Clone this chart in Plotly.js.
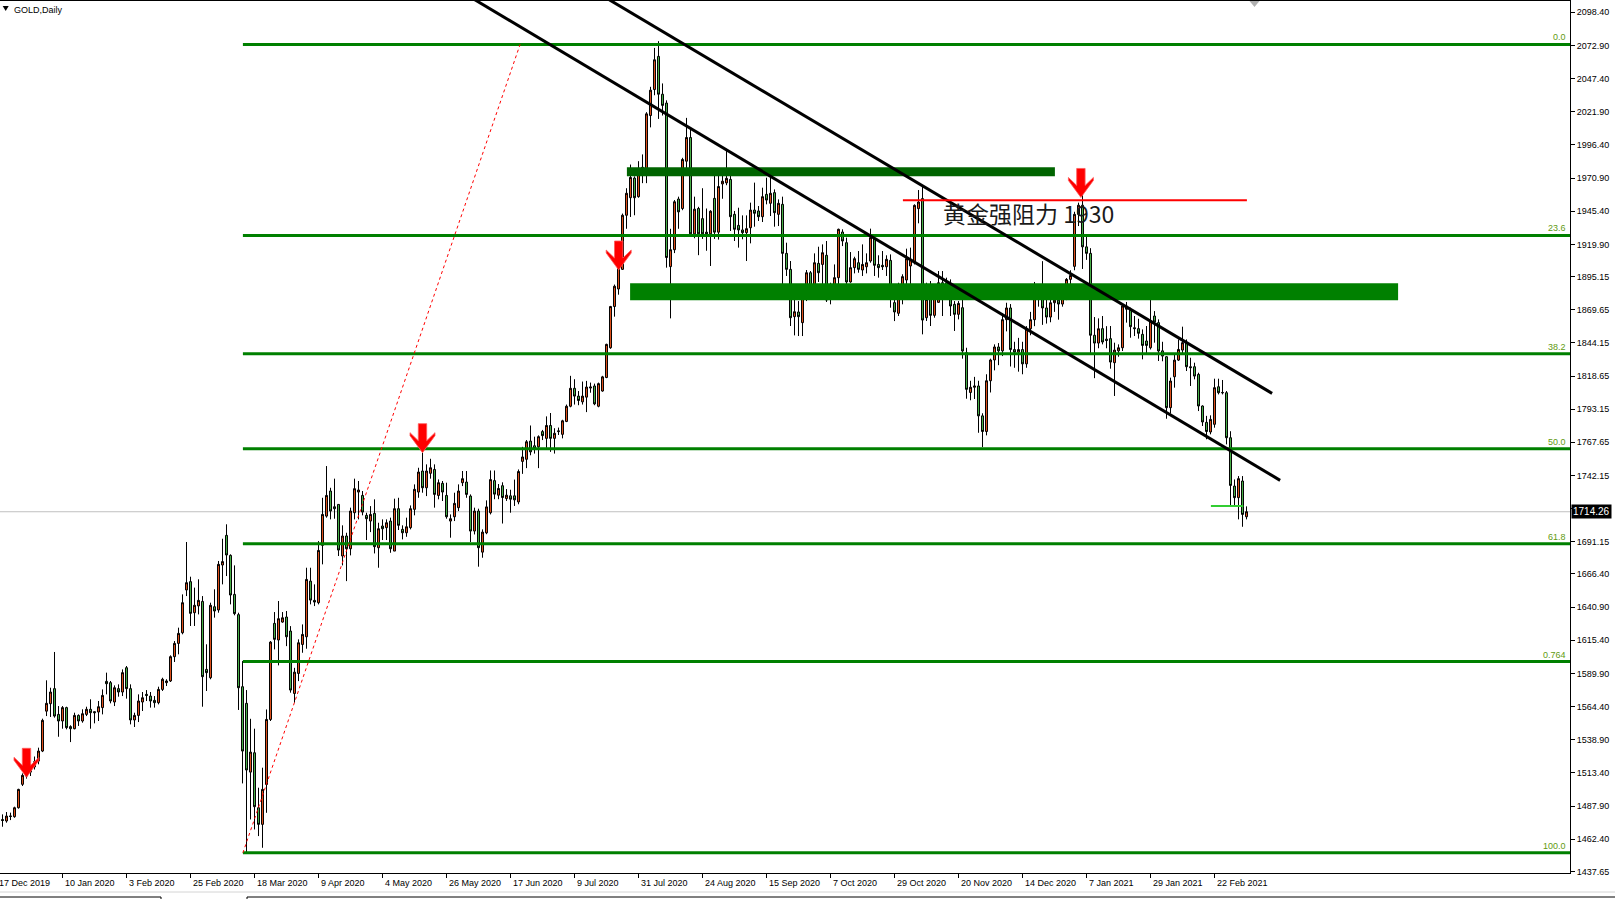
<!DOCTYPE html>
<html><head><meta charset="utf-8">
<script src="https://cdn.plot.ly/plotly-3.0.1.min.js"></script>
<style>html,body{margin:0;padding:0;background:#fff;overflow:hidden}#chart{width:1615px;height:899px}</style>
</head><body><div id="chart"></div>
<script>
// Daily OHLC of GOLD, bar index 0 = 17 Dec 2019 ... 312 = 4 Mar 2021
const opens = [1476.0,1477.5,1476.4,1480.3,1479.7,1486.6,1504.6,1511.0,1514.0,1518.0,
1522.5,1530.2,1560.9,1566.6,1578.2,1558.4,1553.3,1563.6,1549.0,1547.4,
1557.6,1553.3,1558.4,1562.3,1560.5,1560.2,1563.6,1583.8,1582.8,1567.9,
1578.2,1575.6,1594.3,1578.2,1554.1,1557.6,1567.9,1573.8,1572.5,1569.2,
1567.4,1577.6,1582.8,1584.1,1602.8,1613.0,1621.2,1654.1,1660.5,1636.6,
1641.8,1645.3,1593.0,1586.6,1641.2,1638.7,1673.3,1696.1,1680.7,1650.7,
1635.1,1579.7,1566.9,1514.0,1528.9,1486.6,1473.8,1504.5,1554.5,1628.4,
1615.6,1629.4,1633.3,1622.5,1574.5,1589.9,1612.2,1618.1,1660.9,1646.1,
1644.3,1688.4,1710.9,1730.2,1718.1,1719.9,1680.2,1695.6,1685.8,1713.5,
1729.4,1726.8,1711.5,1707.1,1713.0,1686.6,1703.3,1702.0,1707.1,1684.0,
1716.6,1700.7,1698.1,1702.0,1716.1,1729.4,1745.6,1732.7,1743.8,1746.8,
1726.8,1736.1,1726.8,1707.1,1710.4,1717.4,1736.6,1737.1,1726.3,1699.4,
1714.8,1683.2,1698.0,1713.5,1738.2,1727.0,1734.3,1724.4,1726.5,1726.5,
1721.8,1753.0,1754.6,1768.6,1765.0,1764.2,1775.9,1770.7,1780.6,1770.7,
1775.9,1773.8,1783.7,1795.4,1809.2,1803.2,1798.8,1802.4,1809.4,1811.0,
1795.4,1807.1,1817.5,1840.4,1872.1,1885.6,1900.7,1942.3,1955.8,1970.9,
1956.6,1976.6,1974.8,2019.0,2039.0,2064.5,2035.4,2028.6,1902.8,1915.8,
1954.8,1947.5,1983.9,2002.1,1928.0,1947.5,1939.7,1929.3,1928.0,1955.3,
1929.3,1966.4,1967.2,1969.9,1943.0,1934.5,1931.0,1928.9,1932.7,1946.3,
1945.6,1941.2,1958.4,1951.5,1959.7,1943.0,1950.7,1913.0,1900.7,1864.3,
1867.9,1859.7,1880.2,1898.1,1885.3,1905.3,1904.5,1911.5,1877.9,1887.4,
1894.3,1929.4,1921.2,1891.0,1902.0,1905.8,1900.2,1902.7,1907.1,1924.3,
1904.5,1903.8,1902.7,1907.6,1875.1,1866.9,1877.6,1892.5,1903.3,1905.8,
1947.4,1955.1,1863.5,1877.6,1865.3,1875.3,1890.4,1890.4,1880.7,1873.8,
1866.1,1871.2,1836.6,1806.0,1810.0,1811.0,1788.0,1776.0,1815.0,1831.0,
1841.0,1838.0,1862.0,1871.0,1839.0,1837.0,1839.0,1828.0,1855.0,1862.0,
1887.0,1882.0,1871.0,1864.0,1875.0,1877.0,1874.0,1880.0,1893.0,1903.0,
1943.0,1950.0,1918.0,1913.0,1850.0,1844.0,1855.1,1847.0,1847.4,1828.9,
1838.0,1840.4,1872.5,1869.4,1855.8,1855.1,1850.7,1845.6,1840.4,1864.8,
1859.7,1838.0,1833.5,1794.3,1818.1,1830.9,1838.6,1844.3,1825.8,1825.8,
1819.9,1795.6,1783.0,1775.6,1781.5,1810.4,1806.0,1805.8,1771.2,1734.0,
1725.1,1737.9,1710.4];
const highs = [1479.0,1481.5,1483.3,1482.8,1487.4,1501.2,1513.0,1516.0,1520.0,1526.0,
1532.8,1555.1,1584.6,1578.9,1606.4,1564.8,1564.8,1564.3,1550.0,1559.7,
1558.4,1562.3,1564.3,1570.0,1560.7,1568.7,1577.6,1590.5,1584.1,1580.7,
1581.5,1593.0,1595.6,1581.5,1559.7,1573.8,1575.6,1577.1,1575.6,1572.5,
1579.7,1586.6,1585.4,1603.8,1614.8,1625.1,1650.7,1691.0,1664.3,1655.9,
1662.3,1649.4,1612.3,1644.3,1654.6,1676.4,1693.5,1704.6,1681.5,1673.0,
1636.6,1599.4,1577.1,1555.0,1547.4,1502.0,1517.4,1562.2,1614.8,1637.1,
1645.6,1637.1,1637.9,1626.3,1594.2,1616.1,1627.6,1671.2,1671.2,1658.4,
1691.7,1725.0,1749.4,1732.7,1739.7,1719.9,1703.8,1698.1,1717.4,1739.7,
1737.9,1730.2,1713.5,1718.6,1723.8,1705.8,1708.4,1708.4,1709.7,1724.3,
1725.0,1703.8,1709.7,1719.1,1735.3,1748.1,1759.7,1750.7,1755.0,1750.7,
1739.1,1737.9,1736.6,1712.2,1728.9,1735.3,1745.6,1745.6,1727.6,1717.4,
1716.6,1700.7,1723.0,1746.0,1746.0,1735.6,1736.9,1731.7,1731.2,1739.0,
1746.8,1764.2,1769.4,1780.6,1772.0,1773.0,1777.2,1787.6,1790.2,1778.5,
1779.0,1785.0,1796.7,1818.8,1816.2,1807.1,1814.4,1814.9,1813.6,1812.8,
1813.6,1818.8,1843.5,1872.6,1889.0,1905.9,1943.6,1963.1,1981.3,1972.2,
1983.9,1989.1,2021.6,2041.1,2071.0,2076.2,2043.7,2030.7,1931.9,1954.0,
1956.6,1986.5,2017.2,2008.6,1956.6,1948.8,1963.1,1947.5,1946.2,1976.6,
1977.4,1977.5,1991.7,1973.8,1945.6,1948.1,1942.2,1942.2,1952.0,1967.4,
1949.4,1963.5,1971.2,1973.8,1962.2,1954.5,1956.6,1921.2,1907.1,1878.1,
1876.3,1883.3,1900.2,1899.4,1913.0,1918.1,1919.9,1922.5,1890.4,1904.5,
1932.0,1931.5,1925.1,1914.0,1910.4,1914.8,1919.9,1913.0,1932.0,1925.8,
1911.5,1914.8,1911.5,1912.2,1877.6,1890.4,1896.9,1916.6,1917.4,1950.7,
1961.7,1964.3,1890.4,1891.7,1887.9,1899.4,1899.4,1894.3,1893.0,1876.3,
1876.3,1880.2,1840.4,1815.0,1818.0,1815.0,1790.0,1820.0,1832.0,1843.0,
1844.0,1867.0,1875.0,1874.0,1845.0,1848.0,1845.0,1857.0,1868.0,1891.0,
1888.0,1907.0,1880.0,1878.0,1884.0,1887.0,1886.0,1894.0,1900.0,1945.0,
1952.0,1959.0,1927.0,1917.0,1864.0,1863.0,1864.8,1857.0,1857.1,1844.3,
1843.0,1874.5,1875.6,1871.2,1864.8,1862.7,1854.5,1857.1,1877.1,1868.6,
1862.2,1845.0,1834.0,1817.4,1835.3,1846.8,1856.6,1846.8,1832.7,1828.9,
1821.2,1796.1,1788.0,1788.4,1816.6,1816.6,1815.6,1807.1,1776.2,1739.1,
1741.7,1741.7,1718.4];
const lows = [1474.0,1472.0,1475.1,1477.1,1478.9,1485.9,1503.3,1509.0,1511.0,1516.0,
1520.0,1529.4,1557.1,1556.4,1555.9,1541.2,1547.4,1546.9,1537.1,1546.9,
1549.5,1552.0,1557.1,1547.4,1551.5,1553.3,1558.4,1573.8,1566.9,1564.8,
1572.0,1572.5,1570.5,1550.7,1548.7,1552.5,1561.0,1568.7,1563.6,1563.6,
1566.1,1576.4,1580.2,1583.3,1598.7,1604.6,1620.0,1649.4,1626.4,1626.4,
1635.3,1564.3,1576.4,1585.4,1632.8,1636.6,1658.4,1664.8,1643.0,1634.6,
1561.8,1505.3,1452.0,1477.6,1469.9,1464.8,1455.8,1482.7,1553.3,1608.4,
1596.1,1628.9,1610.9,1575.1,1567.4,1584.0,1605.8,1608.9,1643.0,1641.7,
1643.0,1673.8,1709.7,1708.4,1708.9,1680.2,1673.0,1660.9,1680.7,1708.4,
1708.4,1711.5,1692.5,1698.6,1682.2,1671.2,1692.5,1692.5,1682.7,1684.0,
1700.2,1693.0,1695.0,1700.7,1711.5,1725.0,1728.9,1726.3,1739.7,1717.4,
1723.8,1722.5,1708.9,1694.3,1707.1,1714.8,1734.0,1725.0,1691.0,1696.8,
1672.0,1678.9,1697.0,1712.2,1723.9,1723.9,1705.2,1722.6,1713.5,1718.7,
1720.0,1743.4,1747.8,1757.7,1759.0,1747.8,1769.4,1763.4,1760.3,1759.0,
1773.3,1770.7,1783.2,1794.6,1796.7,1796.2,1796.7,1790.9,1805.8,1796.2,
1794.6,1806.6,1817.0,1839.6,1864.3,1881.2,1900.2,1931.9,1941.0,1942.3,
1955.8,1967.0,1967.0,2009.9,2034.6,2016.4,2019.0,1902.0,1863.0,1913.2,
1931.9,1946.2,1976.1,1926.0,1924.6,1911.6,1924.1,1915.0,1903.3,1924.1,
1923.6,1955.0,1965.4,1930.2,1922.5,1917.4,1923.8,1907.1,1920.7,1933.5,
1937.9,1937.1,1950.7,1941.7,1933.5,1934.0,1882.7,1895.6,1857.1,1849.9,
1849.4,1849.4,1876.3,1885.3,1883.3,1891.0,1887.9,1875.6,1873.8,1882.7,
1887.9,1918.6,1887.4,1890.4,1897.6,1898.1,1895.6,1897.6,1905.8,1895.6,
1894.3,1900.2,1895.6,1871.2,1860.9,1864.8,1873.8,1887.9,1882.2,1904.5,
1936.1,1850.7,1861.0,1857.1,1863.5,1875.1,1864.8,1877.6,1864.8,1853.3,
1862.2,1832.0,1801.2,1800.0,1801.0,1775.0,1764.0,1773.0,1806.0,1823.0,
1827.0,1834.0,1853.0,1826.0,1825.0,1822.0,1820.0,1825.0,1850.0,1857.0,
1872.0,1858.0,1859.0,1860.0,1868.0,1862.0,1872.0,1877.0,1885.0,1900.0,
1934.0,1901.0,1908.0,1835.0,1817.0,1840.0,1843.0,1840.0,1824.3,1803.3,
1833.5,1837.9,1859.7,1848.1,1849.4,1847.4,1831.5,1835.3,1839.1,1844.3,
1830.2,1830.0,1785.8,1789.9,1809.7,1830.2,1835.3,1822.5,1811.0,1816.1,
1791.7,1780.2,1770.0,1773.8,1778.9,1804.5,1804.5,1766.1,1719.2,1718.6,
1708.4,1702.7,1708.4];
const closes = [1477.0,1476.8,1480.2,1479.9,1486.6,1500.7,1511.5,1514.0,1518.0,1522.0,
1530.2,1553.8,1566.9,1575.6,1557.1,1553.3,1563.6,1548.2,1547.4,1557.6,
1553.3,1558.9,1562.3,1559.7,1559.7,1564.3,1573.0,1582.0,1568.7,1578.9,
1575.6,1590.5,1578.2,1554.1,1557.6,1568.7,1571.2,1573.0,1568.7,1567.4,
1577.6,1585.4,1584.1,1602.8,1613.0,1620.7,1644.3,1659.7,1636.1,1642.3,
1646.1,1587.4,1590.5,1642.3,1637.9,1673.8,1675.9,1681.0,1650.2,1635.9,
1578.9,1530.2,1515.6,1529.4,1487.4,1473.8,1500.7,1554.5,1614.0,1616.1,
1632.0,1632.7,1618.1,1577.1,1590.9,1613.5,1619.9,1662.2,1646.3,1644.8,
1684.5,1712.2,1726.8,1714.8,1716.6,1684.8,1695.6,1685.8,1714.8,1732.0,
1731.0,1714.0,1708.9,1712.2,1687.4,1701.2,1701.2,1705.8,1685.8,1716.6,
1703.8,1698.1,1702.7,1716.6,1731.5,1744.8,1732.7,1745.6,1748.1,1727.6,
1736.6,1729.4,1710.4,1708.9,1720.7,1730.2,1739.7,1727.6,1699.4,1714.8,
1686.6,1698.6,1718.0,1739.0,1727.8,1732.2,1725.2,1727.0,1723.9,1723.4,
1745.2,1756.4,1768.1,1760.3,1762.9,1772.0,1772.8,1780.6,1770.7,1774.6,
1776.4,1784.2,1795.4,1809.2,1803.2,1799.8,1803.2,1810.2,1810.2,1797.2,
1812.8,1818.0,1843.0,1872.1,1887.7,1903.3,1942.3,1959.2,1971.4,1955.8,
1976.6,1979.2,2020.3,2038.5,2061.9,2035.4,2026.8,1909.8,1915.8,1952.7,
1944.9,1985.2,2002.1,1928.0,1947.0,1928.0,1928.0,1928.0,1945.4,1929.3,
1964.4,1968.5,1970.7,1941.2,1931.5,1931.0,1928.9,1932.0,1946.3,1943.8,
1941.2,1956.6,1954.0,1959.2,1944.3,1951.5,1913.0,1900.7,1863.5,1868.1,
1864.3,1882.2,1898.1,1885.8,1905.8,1898.1,1913.5,1877.1,1887.9,1894.3,
1931.5,1922.5,1891.0,1902.0,1908.9,1900.7,1904.5,1905.8,1925.1,1903.8,
1902.0,1902.7,1908.4,1877.6,1867.9,1879.7,1895.1,1908.9,1908.4,1949.9,
1952.5,1861.7,1877.6,1865.3,1884.0,1890.4,1887.9,1880.7,1872.5,1866.1,
1874.5,1837.9,1808.4,1810.0,1811.0,1788.0,1776.0,1815.0,1831.0,1841.0,
1838.0,1862.0,1871.0,1839.0,1837.0,1839.0,1828.0,1855.0,1862.0,1887.0,
1882.0,1871.0,1864.0,1875.0,1877.0,1874.0,1880.0,1893.0,1896.0,1943.0,
1950.0,1918.0,1913.0,1850.0,1844.0,1855.0,1844.8,1846.0,1829.4,1838.6,
1840.4,1872.5,1870.0,1856.6,1855.1,1851.5,1842.2,1842.2,1861.0,1860.2,
1837.9,1834.0,1794.3,1814.8,1830.9,1839.1,1844.3,1825.8,1825.1,1818.6,
1795.6,1783.3,1776.0,1785.3,1809.7,1805.8,1805.8,1771.2,1734.5,1725.1,
1739.7,1712.2,1714.3];

const xTickIdx = [0,16,32,48,64,80,96,112,128,144,160,176,192,208,224,240,256,272,288,304];
const xTickLabels = ['17 Dec 2019','10 Jan 2020','3 Feb 2020','25 Feb 2020','18 Mar 2020','9 Apr 2020','4 May 2020','26 May 2020','17 Jun 2020','9 Jul 2020','31 Jul 2020','24 Aug 2020','15 Sep 2020','7 Oct 2020','29 Oct 2020','20 Nov 2020','14 Dec 2020','7 Jan 2021','29 Jan 2021','22 Feb 2021'];
const yTickVals = [2098.40,2072.90,2047.40,2021.90,1996.40,1970.90,1945.40,1919.90,1895.15,1869.65,1844.15,1818.65,1793.15,1767.65,1742.15,1716.65,1691.15,1666.40,1640.90,1615.40,1589.90,1564.40,1538.90,1513.40,1487.90,1462.40,1437.65];

// Fibonacci retracement (levels)
const fibLevels = [2073.7,1926.8,1835.8,1762.8,1689.6,1599.0,1451.9];
const fibLabels = ['0.0','23.6','38.2','50.0','61.8','0.764','100.0'];
const fibStartIdx = 61.1;
// Drawn objects (bar index, price)
const trendLine1 = [[118.9,2108.4],[320.4,1738.4]];
const trendLine2 = [[152.5,2108.4],[318.4,1805.3]];
const fibTrend = [[61.1,1451.9],[130.4,2073.7]];
const zone1 = {x:[157.1,264.1], y:[1972.3,1979.2]};
const zone2 = {x:[157.9,349.9], y:[1876.9,1890.0]};
const resistLine = {x:[226.1,312.1], y:1953.8};
const shortGreen = {x:[303.1,311.2], y:1718.6};
const arrowTips = [[7.0,1510.0],[155.05,1900.2],[106.0,1759.7],[270.6,1956.0]];
const noteText = '黄金强阻力 1930';
const notePos = [235.6,1943.8];
const lastPrice = 1714.26;

const idx = opens.map((_, k) => k);
const xRange = [0.375, 392.875];
const yRange = [1436.4, 2107.1];

const shapes = [];
// price line
shapes.push({type:'line', xref:'paper', yref:'y', x0:0, x1:1, y0:lastPrice, y1:lastPrice, line:{color:'#c0c0c0', width:1}, layer:'below'});
// fib lines
fibLevels.forEach(v => shapes.push({type:'line', xref:'x', yref:'y', x0:fibStartIdx, x1:xRange[1], y0:v, y1:v, line:{color:'#008000', width:3}, layer:'above'}));
// fib trend dotted
shapes.push({type:'line', xref:'x', yref:'y', x0:fibTrend[0][0], y0:fibTrend[0][1], x1:fibTrend[1][0], y1:fibTrend[1][1], line:{color:'#ff0000', width:1, dash:'dot'}, layer:'above'});
// zones
shapes.push({type:'rect', xref:'x', yref:'y', x0:zone1.x[0], x1:zone1.x[1], y0:zone1.y[0], y1:zone1.y[1], fillcolor:'#006400', line:{width:0}, layer:'above'});
shapes.push({type:'rect', xref:'x', yref:'y', x0:zone2.x[0], x1:zone2.x[1], y0:zone2.y[0], y1:zone2.y[1], fillcolor:'#008000', line:{width:0}, layer:'above'});
// trend lines
[trendLine1, trendLine2].forEach(t => shapes.push({type:'line', xref:'x', yref:'y', x0:t[0][0], y0:t[0][1], x1:t[1][0], y1:t[1][1], line:{color:'#000000', width:3}, layer:'above'}));
// resistance line
shapes.push({type:'line', xref:'x', yref:'y', x0:resistLine.x[0], x1:resistLine.x[1], y0:resistLine.y, y1:resistLine.y, line:{color:'#ff0000', width:2}, layer:'above'});
shapes.push({type:'line', xref:'x', yref:'y', x0:shortGreen.x[0], x1:shortGreen.x[1], y0:shortGreen.y, y1:shortGreen.y, line:{color:'#32cd32', width:2}, layer:'above'});
// arrows
arrowTips.forEach(a => shapes.push({type:'path', xref:'x', yref:'y', xsizemode:'pixel', ysizemode:'pixel', xanchor:a[0], yanchor:a[1],
  path:'M0,0 L12.5,17 L12.5,20 L4.2,12 L4.2,29 L-4.2,29 L-4.2,12 L-12.5,20 L-12.5,17 Z', fillcolor:'#ff0000', line:{color:'#ff5a5a', width:0.8}, layer:'above'}));
// top-left triangle and chart-shift marker
shapes.push({type:'path', xref:'paper', yref:'paper', xsizemode:'pixel', ysizemode:'pixel', xanchor:0, yanchor:1, path:'M2.7,-5 L8.7,-5 L5.7,-10 Z', fillcolor:'#000', line:{width:0}});
shapes.push({type:'path', xref:'x', yref:'paper', xsizemode:'pixel', ysizemode:'pixel', xanchor:314.0, yanchor:1, path:'M-5,0 L5,0 L0,-6 Z', fillcolor:'#b0b0b0', line:{width:0}});
// bottom tab strip
const H = 872, W = 1570;
const py = Y => (873 - Y) / H, px = X => X / W;
shapes.push({type:'line', xref:'paper', yref:'paper', x0:0, x1:px(1615), y0:py(892), y1:py(892), line:{color:'#d4d4d4', width:1}});
shapes.push({type:'line', xref:'paper', yref:'paper', x0:0, x1:px(161), y0:py(897), y1:py(897), line:{color:'#000', width:1}});
shapes.push({type:'line', xref:'paper', yref:'paper', x0:px(161), x1:px(161), y0:py(897), y1:py(899), line:{color:'#000', width:1}});
shapes.push({type:'line', xref:'paper', yref:'paper', x0:px(247), x1:px(1615), y0:py(897), y1:py(897), line:{color:'#000', width:1}});
shapes.push({type:'line', xref:'paper', yref:'paper', x0:px(247), x1:px(247), y0:py(897), y1:py(899), line:{color:'#000', width:1}});

const annotations = [];
xTickIdx.forEach((v, k) => annotations.push({xref:'x', yref:'paper', x:Math.max(v, xRange[0]), y:0, xanchor:'left', yanchor:'top', xshift:(k === 0 ? -3 : 0), yshift:-3, text:xTickLabels[k], showarrow:false, font:{family:'Liberation Sans', size:9, color:'#000'}}));
fibLevels.forEach((v, k) => annotations.push({xref:'paper', yref:'y', x:1, y:v, xanchor:'right', yanchor:'bottom', xshift:-2, yshift:0, text:fibLabels[k], showarrow:false, font:{family:'Liberation Sans', size:9, color:'#5f9a10'}}));
annotations.push({xref:'x', yref:'y', x:notePos[0], y:notePos[1], xanchor:'left', yanchor:'middle', text:noteText, showarrow:false, font:{family:'Noto Sans CJK SC', size:23, color:'#1a1a1a'}});
annotations.push({xref:'paper', yref:'paper', x:0, y:1, xanchor:'left', yanchor:'top', xshift:12, yshift:-2, text:'GOLD,Daily', showarrow:false, font:{family:'Liberation Sans', size:9, color:'#000'}});
annotations.push({xref:'paper', yref:'y', x:1, y:lastPrice, xanchor:'left', yanchor:'middle', xshift:1, text:lastPrice.toFixed(2), showarrow:false, bgcolor:'#000', borderpad:1, font:{family:'Liberation Sans', size:10, color:'#fff'}});

const trace = {type:'candlestick', x:idx, open:opens, high:highs, low:lows, close:closes,
  increasing:{line:{color:'#000', width:1}, fillcolor:'#e8541c'},
  decreasing:{line:{color:'#000', width:1}, fillcolor:'#4cb84c'},
  whiskerwidth:0, hoverinfo:'skip'};

const layout = {
  width:1615, height:899, margin:{l:0, r:45, t:1, b:26, pad:0},
  paper_bgcolor:'#fff', plot_bgcolor:'#fff', showlegend:false, hovermode:false,
  font:{family:'Liberation Sans', size:9, color:'#000'},
  xaxis:{type:'linear', range:xRange, rangeslider:{visible:false}, showgrid:false, zeroline:false,
    showline:true, mirror:true, linecolor:'#000', linewidth:1, ticks:'outside', ticklen:4, tickcolor:'#000',
    tickvals:xTickIdx, showticklabels:false},
  yaxis:{range:yRange, side:'right', showgrid:false, zeroline:false, showline:true, linecolor:'#000', linewidth:1,
    ticks:'outside', ticklen:4, tickcolor:'#000', tickvals:yTickVals,
    ticktext:yTickVals.map(v => Math.abs(v - 1716.65) < 0.01 ? '' : v.toFixed(2)),
    tickfont:{family:'Liberation Sans', size:9, color:'#000'}},
  shapes:shapes, annotations:annotations
};
Plotly.newPlot('chart', [trace], layout, {staticPlot:true, displayModeBar:false});
</script></body></html>
